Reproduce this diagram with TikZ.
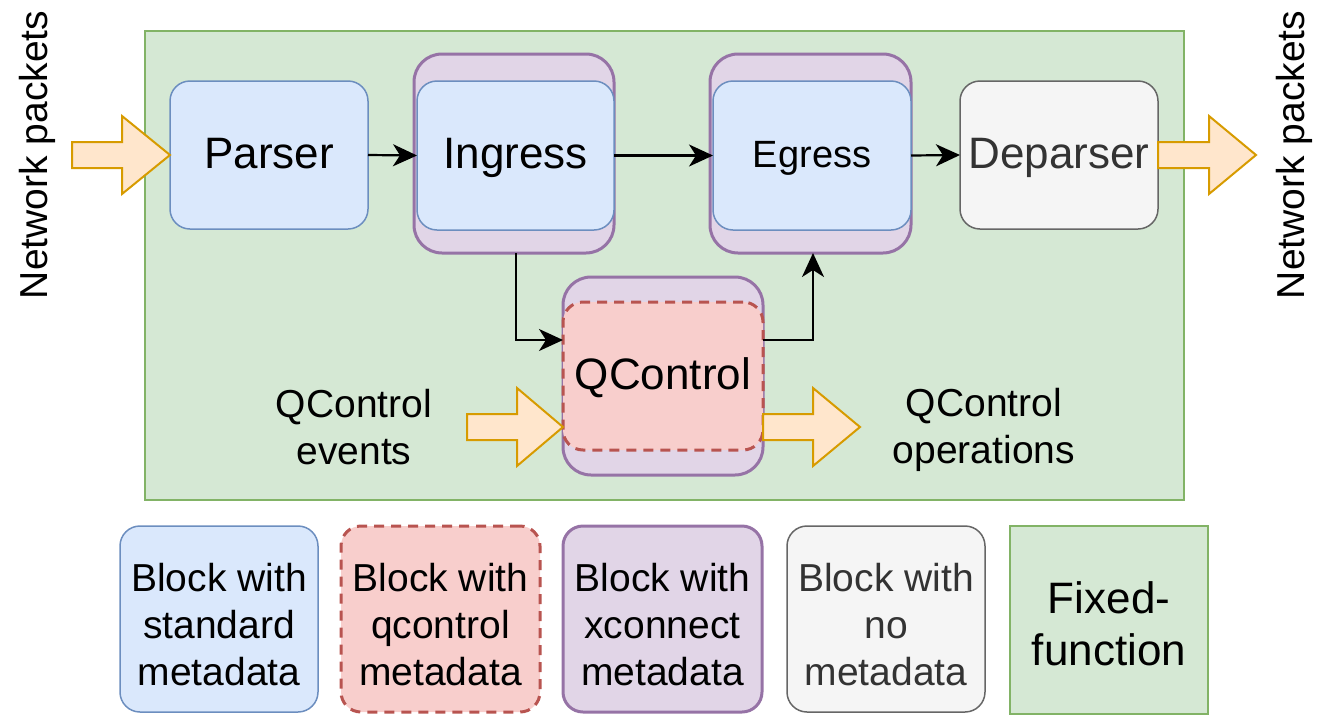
\documentclass[tikz,border=0pt]{standalone}
\usepackage{fontspec}
\setmainfont{Liberation Sans}
\usetikzlibrary{arrows.meta}

\definecolor{blueF}{HTML}{DAE8FC}\definecolor{blueD}{HTML}{6C8EBF}
\definecolor{purpF}{HTML}{E1D5E7}\definecolor{purpD}{HTML}{9673A6}
\definecolor{redF}{HTML}{F8CECC}\definecolor{redD}{HTML}{B85450}
\definecolor{grayF}{HTML}{F5F5F5}\definecolor{grayD}{HTML}{666666}
\definecolor{greenF}{HTML}{D5E8D4}\definecolor{greenD}{HTML}{82B366}
\definecolor{orangeF}{HTML}{FFE6CC}\definecolor{orangeD}{HTML}{D79B00}
\definecolor{textgray}{HTML}{333333}

\begin{document}
\begin{tikzpicture}[x=0.5pt,y=-0.5pt,
  every node/.style={inner sep=0pt,outer sep=0pt,align=center},
  big/.style={font=\fontsize{22}{26}\selectfont,text height=15pt,text depth=1.7pt},
  mid/.style={font=\fontsize{19}{23}\selectfont,text height=13pt,text depth=1.5pt},
  lbl/.style={font=\fontsize{19.5}{23.5}\selectfont},
  stdblock/.style={draw=blueD,fill=blueF,line width=0.75pt,rounded corners=10pt},
  qcblock/.style={draw=redD,fill=redF,line width=1.5pt,rounded corners=10pt,dash pattern=on 5pt off 3.5pt},
  xcblock/.style={draw=purpD,fill=purpF,line width=1.5pt,rounded corners=14pt},
  noblock/.style={draw=grayD,fill=grayF,line width=0.75pt,rounded corners=10pt,text=textgray},
  ffblock/.style={draw=greenD,fill=greenF,line width=1pt},
  blockarrow/.style={draw=orangeD,fill=orangeF,line width=1pt,line join=miter},
  flow/.style={draw=black,line width=1.1pt,-{Stealth[length=12pt,width=11pt,inset=3.5pt]}},
  sz/.style 2 args={minimum width=#1,minimum height=#2}
]
\useasboundingbox (0,0) rectangle (1329,724);

% fixed-function pipeline area
\node[ffblock,sz={519.5pt}{234.5pt}] (ff) at (664.5,265.5) {};

% pipeline blocks
\node[stdblock,sz={99pt}{74pt},big] (parser) at (269,155) {Parser};

\node[xcblock,sz={100pt}{99.5pt}] (ingout) at (514,153.5) {};
\node[stdblock,sz={98.5pt}{74.5pt},big] (ingin) at (515.5,155.5) {Ingress};

\node[xcblock,sz={100.5pt}{99.5pt}] (egout) at (810.5,153.5) {};
\node[stdblock,sz={99pt}{74.5pt},mid] (egin) at (812,155.5) {Egress};

\node[noblock,sz={99pt}{74pt},big] (dep) at (1059,155) {Deparser};

\node[xcblock,sz={100pt}{99pt}] (qout) at (663,376) {};
\node[qcblock,sz={100pt}{74pt},big] (qin) at (663,376) {QControl};

% connectors
\coordinate (qlev) at (0,340);
\draw[flow] (parser.east) -- (ingin.west);
\draw[flow] (ingin.east) -- (egin.west);
\draw[flow] (egin.east) -- (dep.west);
\draw[flow] ([xshift=1pt]ingout.south) |- (qin.west |- qlev);
\draw[flow] (qin.east |- qlev) -| ([xshift=1.25pt]egout.south);

% packet and event block arrows
\draw[blockarrow] (72,142) -- (122,142) -- (122,116) -- (parser.west) -- (122,194) -- (122,168) -- (72,168) -- cycle;
\draw[blockarrow] (dep.east |- 0,142) -- (1209,142) -- (1209,116) -- (1256,155) -- (1209,194) -- (1209,168) -- (dep.east |- 0,168) -- cycle;
\draw[blockarrow] (467,414) -- (517,414) -- (517,388) -- (qin.west |- 0,427) -- (517,466) -- (517,440) -- (467,440) -- cycle;
\draw[blockarrow] (qin.east |- 0,414) -- (813,414) -- (813,388) -- (860,427) -- (813,466) -- (813,440) -- (qin.east |- 0,440) -- cycle;

% external labels
\node[lbl,rotate=90] (netin) at (37,155) {Network packets};
\node[lbl,rotate=90] (netout) at (1294,155) {Network packets};
\node[lbl] (events) at (354,427) {QControl\\events};
\node[lbl] (ops) at (984,429.5) {QControl\\operations};

% legend boxes
\node[stdblock,sz={99pt}{93pt}] (lgstd) at (219,619) {};
\node[qcblock,sz={99.5pt}{93pt}] (lgqc) at (440.5,619) {};
\node[xcblock,sz={99.5pt}{93pt},rounded corners=10pt] (lgxc) at (662.5,619) {};
\node[noblock,sz={99pt}{93pt}] (lgno) at (886,619) {};
\node[ffblock,sz={99pt}{94pt}] (lgff) at (1109,620) {};

% legend captions
\node[lbl] (lgstdt) at ([yshift=-3pt]lgstd.center) {Block with\\standard\\metadata};
\node[lbl] (lgqct) at ([yshift=-3pt]lgqc.center) {Block with\\qcontrol\\metadata};
\node[lbl] (lgxct) at ([yshift=-3pt]lgxc.center) {Block with\\xconnect\\metadata};
\node[lbl,text=textgray] (lgnot) at ([yshift=-3pt]lgno.center) {Block with\\no\\metadata};
\node[font=\fontsize{22}{26}\selectfont] (lgfft) at ([yshift=-2pt]lgff.center) {Fixed-\\function};
\end{tikzpicture}
\end{document}
